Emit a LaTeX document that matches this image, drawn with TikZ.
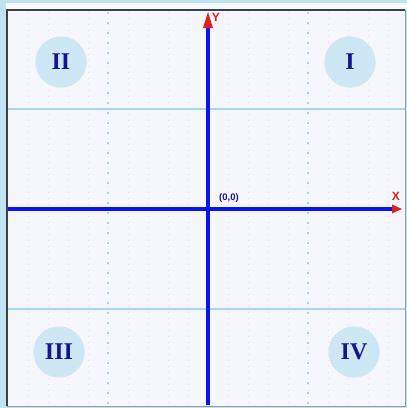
\documentclass[tikz,border=0pt]{standalone}
\usepackage{fontspec}
\newfontfamily\numfont{Liberation Serif}
\newfontfamily\labfont{Liberation Sans}
\usetikzlibrary{arrows.meta}
\definecolor{bgc}{HTML}{F6F6FD}
\definecolor{framec}{HTML}{BFE3F0}
\definecolor{gridc}{HTML}{A4D6F0}
\definecolor{pinkc}{HTML}{F4C6D2}
\definecolor{axisc}{HTML}{0A14F0}
\definecolor{circc}{HTML}{CDE8F4}
\definecolor{numc}{HTML}{16168A}
\definecolor{labc}{HTML}{E02020}
\begin{document}
\begin{tikzpicture}[x=1pt,y=-1pt,
  quad/.style={circle,minimum size=51pt,inner sep=0pt,fill=circc,draw=circc!80!pinkc,densely dotted,font=\numfont\bfseries\fontsize{24}{24}\selectfont,text=numc},
  axisline/.style={draw=axisc,line width=4pt},
  axlab/.style={text=labc,font=\labfont\bfseries\fontsize{12}{12}\selectfont,inner sep=0pt}]
\useasboundingbox (0,0) rectangle (407,408);
\fill[framec] (0,0) rectangle (407,408);
\fill[white!85!framec] (6,3) rectangle (407,9);
\fill[bgc] (6,10) rectangle (405,406);
% pink dotted lines
\foreach \x in {28,48,...,388}{
  \draw[pinkc!70,line width=0.6pt,dash pattern=on 1pt off 5pt] (\x,12) -- (\x,404);
}
% light blue grid lines
\draw[gridc,line width=1.3pt] (8,109) -- (405,109);
\draw[gridc,line width=1.3pt] (8,309) -- (405,309);
\draw[gridc,line width=1.5pt,dash pattern=on 2pt off 8pt] (108,12) -- (108,404);
\draw[gridc,line width=1.5pt,dash pattern=on 2pt off 8pt] (308,12) -- (308,404);
% frame borders
\draw[black!75,line width=2pt] (7,406) -- (7,10) -- (405,10);
\draw[black!40,line width=1pt] (405,10) -- (405,406) -- (7,406);
% axes
\coordinate (xs) at (8,209);
\coordinate (xe) at (392,209);
\coordinate (ys) at (208,405);
\coordinate (ye) at (208,28);
\draw[axisline] (xs) -- (xe);
\draw[axisline] (ys) -- (ye);
\fill[labc] (208,12) -- (203,28) -- (213,28) -- cycle;
\fill[labc] (402,209) -- (392,204.5) -- (392,213.5) -- cycle;
\node[axlab] (ylab) at (216,17) {Y};
\node[axlab] (xlab) at (396,196) {X};
\node[text=numc,font=\labfont\bfseries\fontsize{9.5}{9.5}\selectfont,inner sep=0pt] (orig) at (229,198) {(0,0)};
% quadrant circles
\node[quad] (q2) at (61,62) {II};
\node[quad] (q1) at (350,62) {I};
\node[quad] (q3) at (59,352) {III};
\node[quad] (q4) at (354,352) {IV};
\end{tikzpicture}
\end{document}
